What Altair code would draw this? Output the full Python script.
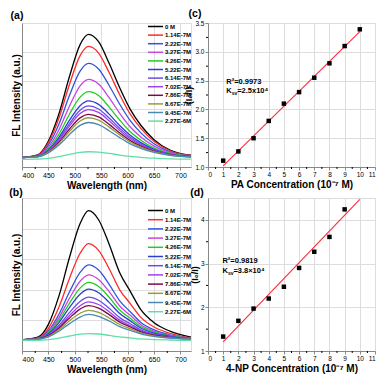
import altair as alt
import pandas as pd

FONT = "Liberation Sans"

# ---------------- data ----------------
wavelengths = [400, 430, 450, 470, 490, 510, 526, 545, 565, 585, 605, 625, 650, 680, 720]
conc_labels = ["0 M", "1.14E-7M", "2.22E-7M", "3.27E-7M", "4.26E-7M", "5.22E-7M",
               "6.14E-7M", "7.02E-7M", "7.86E-7M", "8.67E-7M", "9.45E-7M", "2.27E-6M"]
line_colors = ["#000000", "#ff2a2a", "#2f55e0", "#c745e0", "#22cc22", "#2a3fd0",
               "#6b4be8", "#a040f0", "#7a0a4a", "#9a9a3a", "#4a88b8", "#5ee0a8"]

# panel (a) spectra (arbitrary units, 0-100 of plot height)
a_0M  = [6.6, 8.5, 18.0, 37.0, 63.0, 85.0, 92.1, 87.0, 72.0, 55.0, 40.0, 29.0, 19.0, 11.8, 8.2]
a_114 = [6.6, 8.3, 16.9, 34.0, 57.5, 77.3, 83.7, 79.1, 65.6, 50.2, 36.7, 26.8, 17.8, 11.3, 8.1]
a_222 = [6.6, 8.0, 15.3, 29.8, 49.8, 66.6, 72.0, 68.1, 56.6, 43.6, 32.2, 23.7, 16.1, 10.6, 7.8]
a_327 = [6.6, 7.8, 13.8, 25.9, 42.4, 56.4, 60.9, 57.6, 48.1, 37.3, 27.8, 20.8, 14.5, 9.9, 7.6]
a_426 = [6.6, 7.6, 12.7, 22.8, 36.8, 48.5, 52.3, 49.6, 41.6, 32.5, 24.5, 18.6, 13.2, 9.4, 7.5]
a_522 = [6.6, 7.5, 11.8, 20.6, 32.5, 42.6, 45.9, 43.5, 36.7, 28.8, 22.0, 16.9, 12.3, 9.0, 7.3]
a_614 = [6.6, 7.4, 11.4, 19.3, 30.2, 39.4, 42.4, 40.3, 34.0, 26.9, 20.6, 16.0, 11.8, 8.8, 7.3]
a_702 = [6.6, 7.3, 11.0, 18.4, 28.6, 37.1, 39.9, 37.9, 32.1, 25.4, 19.6, 15.3, 11.4, 8.6, 7.2]
a_786 = [6.6, 7.3, 10.6, 17.3, 26.4, 34.1, 36.6, 34.8, 29.6, 23.6, 18.3, 14.5, 11.0, 8.4, 7.2]
a_867 = [6.6, 7.2, 10.3, 16.4, 24.8, 31.9, 34.2, 32.5, 27.7, 22.2, 17.4, 13.8, 10.6, 8.3, 7.1]
a_945 = [6.6, 7.1, 9.8, 15.2, 22.6, 28.9, 30.9, 29.4, 25.2, 20.4, 16.1, 13.0, 10.1, 8.1, 7.1]
a_227 = [5.3, 5.4, 6.0, 7.2, 8.8, 10.2, 10.6, 10.3, 9.4, 8.3, 7.4, 6.7, 6.1, 5.6, 5.4]

# panel (b) spectra
b_0M  = [7.3, 9.0, 17.4, 36.0, 61.3, 83.3, 91.7, 85.8, 69.8, 51.2, 39.0, 27.0, 18.5, 13.0, 9.0]
b_114 = [7.3, 8.6, 14.8, 28.7, 47.6, 63.9, 70.2, 65.8, 53.8, 40.0, 31.0, 22.0, 15.7, 11.6, 8.6]
b_222 = [7.3, 8.3, 13.2, 24.0, 38.7, 51.4, 56.3, 52.9, 43.6, 32.8, 25.7, 18.7, 13.8, 10.6, 8.3]
b_327 = [7.3, 8.2, 12.4, 21.8, 34.5, 45.6, 49.8, 46.8, 38.8, 29.4, 23.3, 17.2, 13.0, 10.2, 8.2]
b_426 = [7.3, 8.1, 11.8, 20.1, 31.3, 41.1, 44.8, 42.2, 35.1, 26.8, 21.4, 16.0, 12.3, 9.9, 8.1]
b_522 = [7.3, 8.0, 11.3, 18.6, 28.5, 37.1, 40.4, 38.1, 31.8, 24.5, 19.7, 15.0, 11.7, 9.6, 8.0]
b_614 = [7.3, 7.9, 10.6, 16.8, 25.2, 32.4, 35.2, 33.2, 27.9, 21.8, 17.8, 13.8, 11.0, 9.2, 7.9]
b_702 = [7.3, 7.8, 10.3, 15.7, 23.2, 29.6, 32.1, 30.4, 25.7, 20.2, 16.6, 13.1, 10.6, 9.0, 7.8]
b_786 = [7.3, 7.7, 10.0, 14.9, 21.6, 27.4, 29.6, 28.0, 23.8, 18.9, 15.7, 12.5, 10.3, 8.8, 7.7]
b_867 = [7.3, 7.7, 9.6, 13.9, 19.7, 24.7, 26.6, 25.2, 21.6, 17.3, 14.6, 11.8, 9.9, 8.6, 7.7]
b_945 = [7.3, 7.6, 9.3, 12.9, 17.9, 22.2, 23.9, 22.7, 19.6, 15.9, 13.5, 11.2, 9.5, 8.4, 7.6]
b_227 = [6.9, 7.0, 7.4, 8.4, 9.8, 11.0, 11.4, 11.1, 10.2, 9.2, 8.6, 7.9, 7.5, 7.2, 6.9]

# panel (c): PA quenching
c_conc = [1, 2, 3, 4, 5, 6, 7, 8, 9, 10]
c_ratio = [1.11, 1.27, 1.50, 1.80, 2.10, 2.30, 2.55, 2.80, 3.10, 3.39]
c_fit_x = [1, 10]
c_fit_y = [1.02, 3.35]

# panel (d): 4-NP quenching
d_conc = [1, 2, 3, 4, 5, 6, 7, 8, 9]
d_ratio = [1.33, 1.69, 1.97, 2.20, 2.47, 2.90, 3.27, 3.61, 4.24]
d_fit_x = [1, 10]
d_fit_y = [1.21, 4.47]

# tick values
wl_ticks = [400, 450, 500, 550, 600, 650, 700]
wl_minor = [425, 475, 525, 575, 625, 675]
conc_ticks = list(range(0, 12))
conc_minor = [0.5, 1.5, 2.5, 3.5, 4.5, 5.5, 6.5, 7.5, 8.5, 9.5, 10.5]
c_y_ticks = [1.0, 1.5, 2.0, 2.5, 3.0, 3.5]
c_y_minor = [1.25, 1.75, 2.25, 2.75, 3.25]
d_y_ticks = [1, 2, 3, 4]
d_y_minor = [1.5, 2.5, 3.5]

# ---------------- helpers ----------------
a_series = [a_0M, a_114, a_222, a_327, a_426, a_522, a_614, a_702, a_786, a_867, a_945, a_227]
b_series = [b_0M, b_114, b_222, b_327, b_426, b_522, b_614, b_702, b_786, b_867, b_945, b_227]


def long_df(series):
    rows = []
    for lab, vals in zip(conc_labels, series):
        for w, v in zip(wavelengths, vals):
            rows.append({"wl": w, "val": v, "conc": lab})
    return pd.DataFrame(rows)


W1, W2 = 169, 167
H1, H2 = 144, 153


def panel_label(txt, dx, dy):
    return alt.Chart(pd.DataFrame({"t": [txt]})).mark_text(
        font=FONT, fontWeight="bold", fontSize=10.5, align="center", baseline="middle",
        color="black"
    ).encode(text="t:N", x=alt.value(dx), y=alt.value(dy))


def spectra(series, lab, lx, ly, rowpad, h):
    df = long_df(series)
    X = alt.X("wl:Q", scale=alt.Scale(domain=[400, 720], nice=False, zero=False),
              axis=alt.Axis(values=wl_ticks, format="d", title="Wavelength (nm)",
                            labelFontSize=7, titleFontSize=10, tickSize=3,
                            labelPadding=1, titlePadding=2))
    lines = alt.Chart(df).mark_line(strokeWidth=1.3, interpolate="monotone").encode(
        x=X,
        y=alt.Y("val:Q", scale=alt.Scale(domain=[0, 100], nice=False),
                axis=alt.Axis(labels=False, ticks=False, title="FL Intensity (a.u.)",
                              titleFontSize=10, titlePadding=1)),
        color=alt.Color("conc:N", sort=conc_labels,
                        scale=alt.Scale(domain=conc_labels, range=line_colors),
                        legend=alt.Legend(orient="none", legendX=lx, legendY=ly, title=None,
                                          symbolType="M-2.15,0L2.15,0", symbolSize=49,
                                          symbolStrokeWidth=1.5, labelFontSize=6,
                                          labelFont=FONT, labelFontWeight="bold",
                                          labelColor="black", rowPadding=rowpad,
                                          labelOffset=5, padding=0)),
        detail="conc:N",
    )
    minor = alt.Chart(pd.DataFrame({"wl": wl_minor})).mark_rule(
        color="black", strokeWidth=1).encode(x=X, y=alt.value(h), y2=alt.value(h + 2))
    return alt.layer(lines, minor, lab).properties(width=W1, height=h)


def quench(xs, ys, fx, fy, xdom, ydom, yticks, yminor, yfmt, xtitle, ann_x, ann_y, r2, ksv,
           lab, h):
    X = alt.X("x:Q", scale=alt.Scale(domain=xdom, nice=False, zero=False),
              axis=alt.Axis(values=conc_ticks, title=xtitle, labelFontSize=6.5,
                            titleFontSize=10, tickSize=3, labelPadding=1, titlePadding=2))
    Y = alt.Y("y:Q", scale=alt.Scale(domain=ydom, nice=False, zero=False),
              axis=alt.Axis(values=yticks, format=yfmt, title="(I₀/I)", labelFontSize=6.5,
                            titleFontSize=9, tickSize=3, labelPadding=1, titlePadding=1))
    fit = alt.Chart(pd.DataFrame({"x": fx, "y": fy})).mark_line(
        color="#ff2a3a", strokeWidth=1.1).encode(x=X, y=Y)
    pts = alt.Chart(pd.DataFrame({"x": xs, "y": ys})).mark_square(
        size=20, color="black", opacity=1).encode(x=X, y=Y)
    tdf = pd.DataFrame({"x": [ann_x], "y": [ann_y[0]], "t": [r2]})
    t1 = alt.Chart(tdf).mark_text(font=FONT, fontWeight="bold", fontSize=7.5, align="left",
                                  baseline="middle", color="black").encode(x=X, y=Y, text="t:N")
    kdf = pd.DataFrame({"x": [ann_x], "y": [ann_y[1]], "k": ["K"], "s": ["sv"], "t": [ksv]})
    k1 = alt.Chart(kdf).mark_text(font=FONT, fontWeight="bold", fontSize=7.5, align="left",
                                  baseline="middle", color="black").encode(x=X, y=Y, text="k:N")
    k2 = alt.Chart(kdf).mark_text(font=FONT, fontWeight="bold", fontSize=5, align="left",
                                  baseline="middle", color="black", dx=5.5, dy=2.5).encode(
        x=X, y=Y, text="s:N")
    k3 = alt.Chart(kdf).mark_text(font=FONT, fontWeight="bold", fontSize=7.5, align="left",
                                  baseline="middle", color="black", dx=11).encode(
        x=X, y=Y, text="t:N")
    xminor = alt.Chart(pd.DataFrame({"x": conc_minor})).mark_rule(
        color="black", strokeWidth=1).encode(x=X, y=alt.value(h), y2=alt.value(h + 2))
    yminor_l = alt.Chart(pd.DataFrame({"y": yminor})).mark_rule(
        color="black", strokeWidth=1).encode(y=Y, x=alt.value(0), x2=alt.value(-2))
    return alt.layer(fit, pts, t1, k1, k2, k3, xminor, yminor_l, lab).properties(
        width=W2, height=h)


pa = spectra(a_series, panel_label("(a)", -5, -7), 129, -1, 0.6, H1)
pb = spectra(b_series, panel_label("(b)", -6, -5), 129, 8, 1.2, H2)
pc = quench(c_conc, c_ratio, c_fit_x, c_fit_y, [0, 11], [1.0, 3.5], c_y_ticks, c_y_minor,
            ".1f", "PA Concentration (10⁻⁷ M)", 1.2, [2.48, 2.32], "R²=0.9973", "=2.5x10⁴",
            panel_label("(c)", -13, -9), H1)
pd_ = quench(d_conc, d_ratio, d_fit_x, d_fit_y, [0, 11], [1, 4.5], d_y_ticks, d_y_minor,
             "d", "4-NP Concentration (10⁻⁷ M)", 0.95, [3.06, 2.84], "R²=0.9819", "=3.8×10⁴",
             panel_label("(d)", -11, -5), H2)

chart = alt.concat(pa, pc, pb, pd_, columns=2, spacing={"row": 31, "column": 17},
                   bounds="flush").resolve_scale(color="independent").resolve_legend(
    color="independent").properties(
    padding={"left": 0, "top": 0, "right": 0, "bottom": 0}
).configure_view(stroke="black", strokeWidth=1).configure_axis(
    domainColor="black", domainWidth=1, tickColor="black", labelColor="black",
    titleColor="black", labelFont=FONT, titleFont=FONT, labelFontWeight="bold",
    titleFontWeight="bold", grid=False
).configure(background="white")

chart.save("out.html", embed_options={"renderer": "svg", "actions": False})
